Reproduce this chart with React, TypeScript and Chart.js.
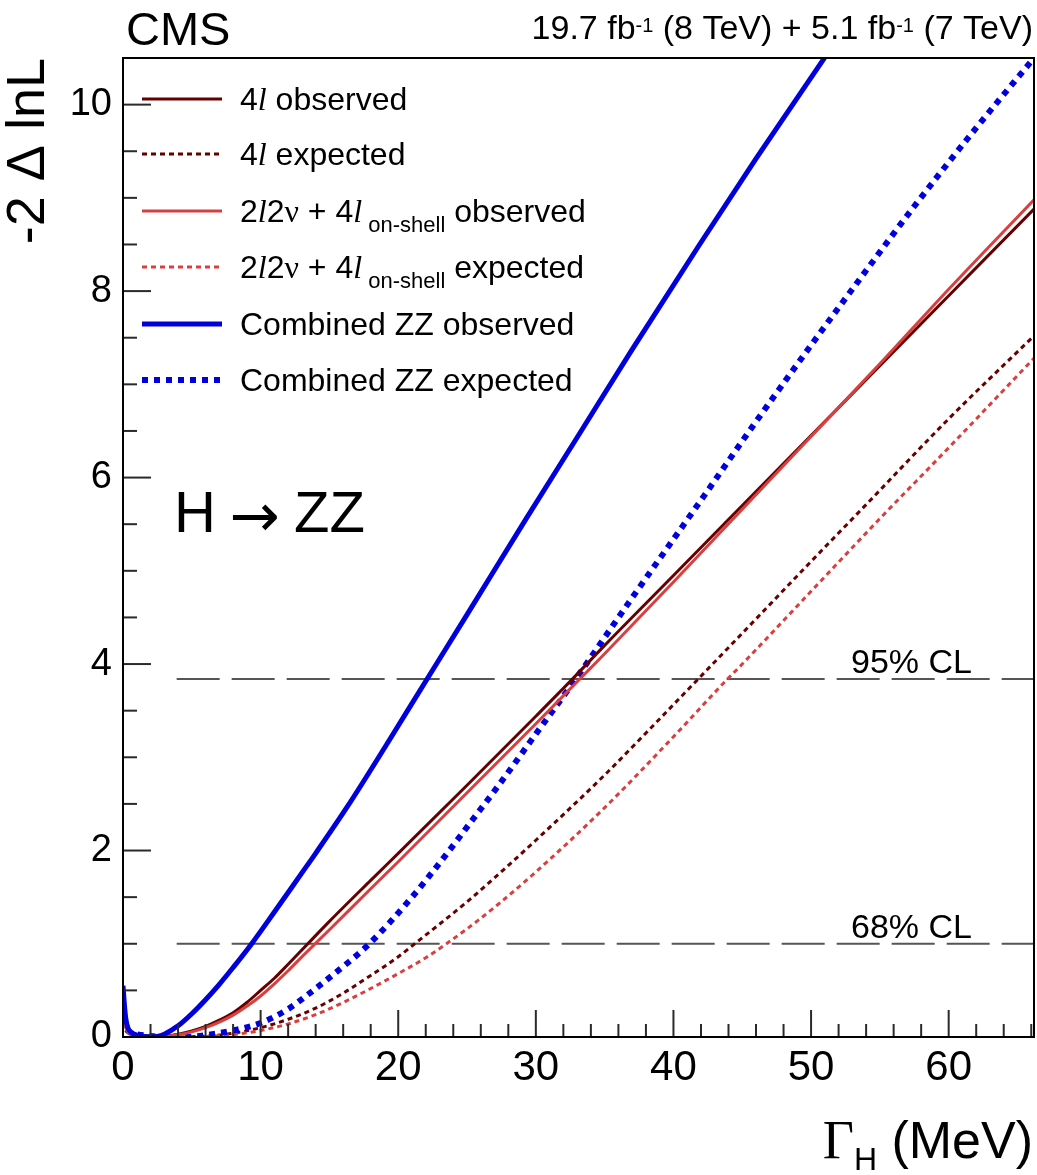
import React, { useEffect, useRef } from "react";
import { Chart, registerables } from "chart.js";

Chart.register(...registerables);

const SANS = "'Liberation Sans', Arial, Helvetica, sans-serif";
const SERIF = "'Liberation Serif', 'Times New Roman', serif";

const DARK = "#660000";
const RED = "#d84040";
const BLUE = "#0000dd";

// ---- axes ----
const X_MIN = 0;
const X_MAX = 66.2;
const Y_MIN = 0;
const Y_MAX = 10.5;
const xTickValues = [0, 10, 20, 30, 40, 50, 60];
const yTickValues = [0, 2, 4, 6, 8, 10];
const xMinorStep = 2;
const yMinorStep = 0.5;

// ---- Combined ZZ observed ----
const combObsX = [0, 0.1, 0.2, 0.35, 0.6, 1, 1.5, 2, 2.5, 3, 4, 5, 6, 7, 8, 9.3, 11, 13, 14, 16.3, 19, 22.1, 25, 29.3, 33, 36.9, 41.9, 46, 51.2];
const combObsY = [0.55, 0.35, 0.2, 0.1, 0.05, 0.02, 0.005, 0, 0.005, 0.03, 0.12, 0.25, 0.4, 0.565, 0.745, 0.99, 1.34, 1.76, 1.97, 2.47, 3.1, 3.84, 4.53, 5.56, 6.43, 7.35, 8.5, 9.42, 10.55];

// ---- Combined ZZ expected ----
const combExpX = [0, 0.2, 0.5, 1, 2, 3, 4, 5, 6, 8, 10, 12, 13.3, 15.2, 17.9, 21, 23.5, 25.4, 27.2, 30, 32.9, 36.9, 42.3, 46, 50.2, 54, 57.5, 62, 66.2];
const combExpY = [0.2, 0.1, 0.05, 0.03, 0.01, 0.002, 0, 0.003, 0.02, 0.07, 0.15, 0.3, 0.44, 0.66, 1.0, 1.5, 1.96, 2.33, 2.68, 3.25, 3.84, 4.69, 5.82, 6.6, 7.46, 8.22, 8.91, 9.75, 10.5];

// ---- 4l observed ----
const fourLObsX = [0, 0.15, 0.3, 0.6, 1, 2, 3, 4, 5, 6, 7, 8, 9, 10, 11, 12, 13.3, 15, 18, 20, 25, 30, 32.6, 35, 40, 45, 50, 55, 60, 66.2];
const fourLObsY = [0.3, 0.15, 0.07, 0.03, 0.012, 0, 0.008, 0.03, 0.065, 0.115, 0.18, 0.26, 0.37, 0.5, 0.63, 0.78, 0.98, 1.24, 1.68, 1.97, 2.7, 3.44, 3.83, 4.2, 4.95, 5.7, 6.45, 7.2, 7.95, 8.88];

// ---- 4l expected ----
const fourLExpX = [0, 0.2, 0.5, 1, 2, 3, 4, 6, 8, 10, 12, 14, 16, 18, 20, 21.2, 25, 27.4, 30, 35, 38, 41.8, 45, 50, 54, 60, 66.2];
const fourLExpY = [0.25, 0.12, 0.06, 0.03, 0.01, 0.002, 0, 0.01, 0.04, 0.1, 0.19, 0.31, 0.47, 0.66, 0.86, 1.0, 1.45, 1.76, 2.11, 2.81, 3.26, 3.84, 4.33, 5.1, 5.71, 6.63, 7.52];

// ---- 2l2nu + 4l on-shell observed ----
const combOnObsX = [0, 0.15, 0.3, 0.6, 1, 2, 3, 4, 5, 6, 7, 8, 9, 10, 11, 12, 13, 13.9, 15, 18, 20, 25, 30, 33.2, 35, 40, 45, 50, 55, 60, 66.2];
const combOnObsY = [0.28, 0.14, 0.065, 0.028, 0.01, 0, 0.006, 0.025, 0.055, 0.1, 0.16, 0.235, 0.33, 0.44, 0.57, 0.71, 0.86, 0.99, 1.15, 1.59, 1.88, 2.62, 3.36, 3.84, 4.11, 4.88, 5.66, 6.44, 7.22, 8.02, 8.98];

// ---- 2l2nu + 4l on-shell expected ----
const combOnExpX = [0, 0.2, 0.5, 1, 2, 3, 4, 6, 8, 10, 12, 14, 16, 18, 20, 22, 23.5, 25, 27.4, 30, 35, 40, 43.8, 45, 50, 55, 60, 66.2];
const combOnExpY = [0.28, 0.13, 0.06, 0.03, 0.01, 0.002, 0, 0.005, 0.025, 0.07, 0.14, 0.24, 0.37, 0.52, 0.68, 0.85, 1.0, 1.16, 1.44, 1.77, 2.46, 3.22, 3.82, 4.0, 4.78, 5.56, 6.32, 7.28];

// ---- confidence levels ----
const clLevels = [3.84, 1.0];
const clLabels = ["95% CL", "68% CL"];
const clStartX = 3.9;

type Part = { t: string; font: string; dy?: number };
const LEG_FONT = `32px ${SANS}`;
const LEG_IT = `italic 32px ${SERIF}`;
const LEG_SUB = `22px ${SANS}`;

const legendRows: { color: string; width: number; dash: number[]; parts: Part[] }[] = [
  { color: DARK, width: 3, dash: [], parts: [{ t: "4", font: LEG_FONT }, { t: "l", font: LEG_IT }, { t: " observed", font: LEG_FONT }] },
  { color: DARK, width: 3, dash: [5, 4], parts: [{ t: "4", font: LEG_FONT }, { t: "l", font: LEG_IT }, { t: " expected", font: LEG_FONT }] },
  {
    color: RED, width: 3, dash: [],
    parts: [
      { t: "2", font: LEG_FONT }, { t: "l", font: LEG_IT }, { t: "2", font: LEG_FONT }, { t: "ν", font: `32px ${SERIF}` },
      { t: " + 4", font: LEG_FONT }, { t: "l", font: LEG_IT }, { t: " on-shell", font: LEG_SUB, dy: 10 }, { t: " observed", font: LEG_FONT },
    ],
  },
  {
    color: RED, width: 3, dash: [5, 4],
    parts: [
      { t: "2", font: LEG_FONT }, { t: "l", font: LEG_IT }, { t: "2", font: LEG_FONT }, { t: "ν", font: `32px ${SERIF}` },
      { t: " + 4", font: LEG_FONT }, { t: "l", font: LEG_IT }, { t: " on-shell", font: LEG_SUB, dy: 10 }, { t: " expected", font: LEG_FONT },
    ],
  },
  { color: BLUE, width: 5, dash: [], parts: [{ t: "Combined ZZ observed", font: LEG_FONT }] },
  { color: BLUE, width: 6, dash: [6, 6], parts: [{ t: "Combined ZZ expected", font: LEG_FONT }] },
];
const legendRowY = [99, 154, 211, 267, 324, 380];

function drawParts(ctx: CanvasRenderingContext2D, x: number, y: number, parts: Part[]) {
  let cx = x;
  for (const p of parts) {
    ctx.font = p.font;
    ctx.fillText(p.t, cx, y + (p.dy || 0));
    cx += ctx.measureText(p.t).width;
  }
  return cx;
}
function partsWidth(ctx: CanvasRenderingContext2D, parts: Part[]) {
  let w = 0;
  for (const p of parts) {
    ctx.font = p.font;
    w += ctx.measureText(p.t).width;
  }
  return w;
}

const overlay = {
  id: "overlay",
  afterDraw(chart: any) {
    const { ctx, chartArea: a, scales } = chart;
    const xs = scales.x;
    const ys = scales.y;
    ctx.save();
    // ticks (inside)
    ctx.strokeStyle = "#2a2a2a";
    ctx.lineWidth = 2;
    ctx.setLineDash([]);
    for (let v = Y_MIN; v <= Y_MAX + 1e-9; v += yMinorStep) {
      const p = ys.getPixelForValue(v);
      const major = yTickValues.some((t) => Math.abs(t - v) < 1e-6);
      ctx.beginPath();
      ctx.moveTo(a.left, p);
      ctx.lineTo(a.left + (major ? 28 : 14), p);
      ctx.stroke();
    }
    for (let v = X_MIN; v <= X_MAX + 1e-9; v += xMinorStep) {
      const p = xs.getPixelForValue(v);
      const major = xTickValues.some((t) => Math.abs(t - v) < 1e-6);
      ctx.beginPath();
      ctx.moveTo(p, a.bottom);
      ctx.lineTo(p, a.bottom - (major ? 27 : 13));
      ctx.stroke();
    }
    // frame
    ctx.strokeStyle = "#000";
    ctx.lineWidth = 2;
    ctx.strokeRect(a.left, a.top, a.right - a.left, a.bottom - a.top);

    ctx.fillStyle = "#000";
    ctx.textAlign = "left";
    ctx.textBaseline = "alphabetic";

    // legend
    legendRows.forEach((row, i) => {
      const y = legendRowY[i];
      ctx.strokeStyle = row.color;
      ctx.lineWidth = row.width;
      ctx.setLineDash(row.dash);
      ctx.beginPath();
      ctx.moveTo(142, y);
      ctx.lineTo(222, y);
      ctx.stroke();
      ctx.setLineDash([]);
      drawParts(ctx, 240, y + 11, row.parts);
    });

    // CL labels
    ctx.font = `34px ${SANS}`;
    ctx.textAlign = "right";
    clLevels.forEach((lv, i) => {
      ctx.fillText(clLabels[i], 972, ys.getPixelForValue(lv) - 6);
    });

    // CMS
    ctx.textAlign = "left";
    ctx.font = `47px ${SANS}`;
    ctx.fillText("CMS", 126, 45);

    // lumi
    const lumi: Part[] = [
      { t: "19.7 fb", font: `34px ${SANS}` },
      { t: "-1", font: `20px ${SANS}`, dy: -7 },
      { t: " (8 TeV) + 5.1 fb", font: `34px ${SANS}` },
      { t: "-1", font: `20px ${SANS}`, dy: -7 },
      { t: " (7 TeV)", font: `34px ${SANS}` },
    ];
    drawParts(ctx, 1033 - partsWidth(ctx, lumi), 39, lumi);

    // H -> ZZ
    ctx.font = `58px ${SANS}`;
    ctx.fillText("H", 174, 532);
    ctx.font = `60px 'DejaVu Sans', ${SANS}`;
    ctx.textAlign = "center";
    ctx.fillText("→", 255, 536);
    ctx.textAlign = "left";
    ctx.font = `58px ${SANS}`;
    ctx.fillText("ZZ", 294, 532);

    // x title
    const xt: Part[] = [
      { t: "Γ", font: `54px ${SERIF}` },
      { t: "H", font: `32px ${SANS}`, dy: 12 },
      { t: " (MeV)", font: `52px ${SANS}` },
    ];
    drawParts(ctx, 1033 - partsWidth(ctx, xt), 1158, xt);

    // y title
    ctx.save();
    ctx.translate(44, 58);
    ctx.rotate(-Math.PI / 2);
    ctx.textAlign = "right";
    ctx.font = `54px ${SANS}`;
    ctx.fillText("-2 Δ lnL", 0, 0);
    ctx.restore();

    ctx.restore();
  },
};

function pts(xs: number[], ys: number[]) {
  return xs.map((x, i) => ({ x, y: ys[i] }));
}

export default function App() {
  const ref = useRef<HTMLCanvasElement | null>(null);
  useEffect(() => {
    if (!ref.current) return;
    const mk = (label: string, xs: number[], ys: number[], color: string, width: number, dash: number[]) => ({
      label,
      data: pts(xs, ys),
      borderColor: color,
      backgroundColor: color,
      borderWidth: width,
      borderDash: dash,
      pointRadius: 0,
      fill: false,
      cubicInterpolationMode: "monotone" as const,
    });
    const datasets: any[] = [
      mk("Combined ZZ observed", combObsX, combObsY, BLUE, 5, []),
      mk("2l2nu + 4l on-shell observed", combOnObsX, combOnObsY, RED, 3, []),
      mk("4l observed", fourLObsX, fourLObsY, DARK, 3, []),
      mk("Combined ZZ expected", combExpX, combExpY, BLUE, 6, [6, 6]),
      mk("2l2nu + 4l on-shell expected", combOnExpX, combOnExpY, RED, 3, [5, 4]),
      mk("4l expected", fourLExpX, fourLExpY, DARK, 3, [5, 4]),
    ];
    clLevels.forEach((lv, i) => {
      datasets.push({
        label: clLabels[i],
        data: [{ x: clStartX, y: lv }, { x: X_MAX, y: lv }],
        borderColor: "#555",
        borderWidth: 2,
        borderDash: [43, 12],
        pointRadius: 0,
        fill: false,
      });
    });

    const chart = new Chart(ref.current, {
      type: "line",
      data: { datasets },
      options: {
        animation: false,
        responsive: false,
        devicePixelRatio: 1,
        layout: { padding: { top: 58, right: 3, left: 0, bottom: 0 } },
        plugins: { legend: { display: false }, tooltip: { enabled: false } },
        scales: {
          x: {
            type: "linear",
            min: X_MIN,
            max: X_MAX,
            grid: { display: false, drawTicks: false },
            border: { display: false },
            afterFit: (s: any) => {
              s.height = 138;
            },
            afterBuildTicks: (s: any) => {
              s.ticks = xTickValues.map((v) => ({ value: v }));
            },
            ticks: {
              font: { family: SANS, size: 42 },
              color: "#000",
              padding: 6,
              maxRotation: 0,
              autoSkip: false,
            },
          },
          y: {
            type: "linear",
            min: Y_MIN,
            max: Y_MAX,
            grid: { display: false, drawTicks: false },
            border: { display: false },
            afterFit: (s: any) => {
              s.width = 123;
            },
            afterBuildTicks: (s: any) => {
              s.ticks = yTickValues.map((v) => ({ value: v }));
            },
            ticks: {
              font: { family: SANS, size: 38 },
              color: "#000",
              padding: 11,
              autoSkip: false,
            },
          },
        },
      } as any,
      plugins: [overlay],
    });
    return () => chart.destroy();
  }, []);
  return (
    <div style={{ position: "absolute", left: 0, top: 0, width: 1037, height: 1175, background: "#fff" }}>
      <canvas ref={ref} width={1037} height={1175} style={{ width: 1037, height: 1175, display: "block" }} />
    </div>
  );
}
